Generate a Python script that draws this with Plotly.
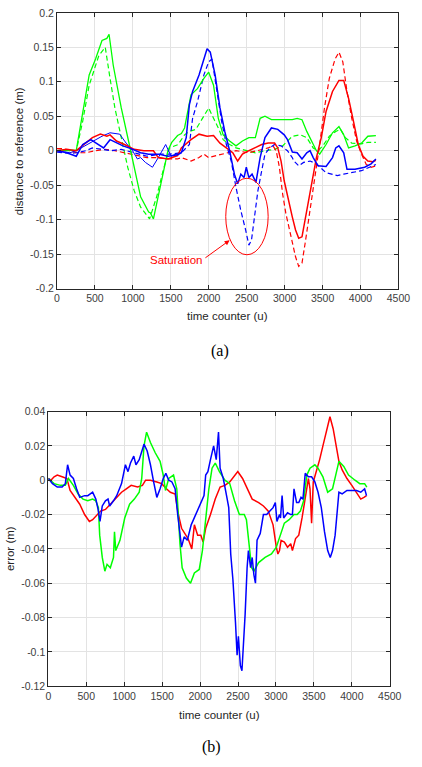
import plotly.graph_objects as go

# ---- (a) distance to reference ----
g_sol_x = [0, 127, 254, 318, 424, 508, 593, 657, 686, 741, 847, 953, 1017, 1102, 1208, 1229, 1271, 1356, 1462, 1512, 1589, 1639, 1681, 1766, 1851, 1936, 1999, 2063, 2126, 2190, 2275, 2359, 2444, 2529, 2614, 2677, 2741, 2826, 2953, 3101, 3165, 3229, 3292, 3356, 3419, 3462, 3546, 3631, 3716, 3779, 3843, 3928, 4013, 4097, 4203]
g_sol_y = [0, 0.001, 0.0005, 0.043, 0.11, 0.133, 0.16, 0.163, 0.169, 0.124, 0.062, 0.009, -0.024, -0.067, -0.089, -0.09, -0.099, -0.053, 0.0, 0.012, 0.022, 0.025, 0.033, 0.081, 0.09, 0.105, 0.114, 0.095, 0.047, 0.023, 0.014, 0.007, 0.014, 0.019, 0.019, 0.047, 0.05, 0.045, 0.045, 0.045, 0.047, 0.045, 0.028, 0.014, 0.0, -0.005, 0.009, 0.026, 0.035, 0.023, 0.004, 0.007, 0.011, 0.021, 0.022]

g_das_x = [0, 127, 254, 339, 424, 551, 614, 636, 699, 763, 847, 932, 1017, 1102, 1165, 1220, 1313, 1398, 1483, 1597, 1681, 1745, 1830, 1914, 1999, 2063, 2126, 2190, 2275, 2359, 2486, 2614, 2741, 2868, 2974, 3059, 3102, 3207, 3292, 3377, 3440, 3504, 3589, 3674, 3737, 3801, 3885, 4013, 4097, 4203]
g_das_y = [0, 0, 0, 0.043, 0.095, 0.138, 0.148, 0.15, 0.105, 0.062, 0.019, -0.024, -0.058, -0.082, -0.091, -0.099, -0.067, -0.029, 0.004, 0.009, 0.023, 0.028, 0.031, 0.047, 0.062, 0.047, 0.033, 0.016, 0.009, 0.004, 0.0, -0.003, 0.0, 0.002, 0.007, 0.016, 0.021, 0.023, 0.019, 0.004, 0.0, 0.007, 0.021, 0.028, 0.031, 0.019, 0.011, 0.01, 0.012, 0.012]

b_sol_x = [0, 127, 254, 339, 445, 530, 614, 699, 784, 869, 975, 1102, 1208, 1335, 1462, 1589, 1639, 1703, 1745, 1787, 1872, 1936, 1978, 2020, 2084, 2148, 2211, 2275, 2338, 2381, 2423, 2465, 2495, 2529, 2571, 2622, 2677, 2741, 2826, 2910, 2995, 3038, 3102, 3165, 3229, 3292, 3335, 3377, 3440, 3546, 3631, 3674, 3716, 3779, 3822, 3928, 4055, 4140, 4203]
b_sol_y = [0, -0.003, -0.008, 0.009, 0.016, 0.01, 0.004, 0.016, 0.011, 0.007, 0.003, -0.003, -0.005, -0.005, -0.008, -0.006, -0.003, 0.019, 0.067, 0.086, 0.11, 0.133, 0.148, 0.143, 0.11, 0.062, 0.028, 0.0, -0.034, -0.048, -0.034, -0.039, -0.024, -0.039, -0.034, -0.046, -0.01, 0.019, 0.033, 0.031, 0.023, 0.016, -0.002, -0.003, -0.012, -0.003, 0.0, -0.01, -0.022, -0.023, -0.01, 0.004, 0.007, -0.003, -0.027, -0.027, -0.024, -0.019, -0.012]

b_thin_x = [0, 169, 254, 424, 593, 699, 826, 911, 996, 1059, 1102, 1165, 1258, 1335, 1432, 1504, 1568, 1639]
b_thin_y = [0, -0.003, 0.0, 0.011, 0.021, 0.026, 0.024, 0.011, 0.0, -0.012, -0.01, -0.017, -0.024, -0.01, 0.009, -0.008, -0.005, -0.003]

b_das_x = [0, 169, 254, 381, 466, 593, 720, 847, 1017, 1186, 1356, 1483, 1639, 1745, 1787, 1851, 1936, 1999, 2042, 2105, 2169, 2232, 2296, 2359, 2423, 2486, 2529, 2563, 2605, 2648, 2698, 2741, 2804, 2868, 2953, 3037, 3101, 3123, 3186, 3250, 3335, 3419, 3546, 3695, 3779, 3885, 4013, 4118, 4203]
b_das_y = [-0.002, -0.004, -0.003, 0.0, 0.004, 0.002, 0.0, 0.002, -0.003, -0.008, -0.005, -0.005, -0.003, 0.009, 0.047, 0.071, 0.11, 0.129, 0.133, 0.086, 0.043, 0.009, -0.015, -0.053, -0.087, -0.115, -0.137, -0.13, -0.096, -0.058, -0.029, -0.005, 0.004, 0.009, 0.007, 0.0, -0.01, -0.015, -0.022, -0.017, -0.015, -0.019, -0.032, -0.036, -0.034, -0.032, -0.029, -0.024, -0.02]

r_sol_x = [0, 127, 254, 381, 466, 572, 657, 699, 784, 890, 1017, 1144, 1271, 1335, 1462, 1589, 1639, 1766, 1872, 1978, 2063, 2148, 2232, 2317, 2381, 2444, 2529, 2614, 2698, 2783, 2868, 2910, 2953, 2995, 3059, 3101, 3144, 3186, 3229, 3292, 3356, 3419, 3483, 3546, 3631, 3716, 3779, 3843, 3907, 3970, 4034, 4097, 4161, 4203]
r_sol_y = [0, 0.002, 0.0, 0.011, 0.019, 0.024, 0.021, 0.023, 0.014, 0.009, 0.002, 0.0, 0.0, -0.01, -0.012, -0.007, 0.004, 0.016, 0.024, 0.021, 0.022, 0.011, 0.004, -0.003, -0.015, -0.005, 0.0, 0.004, 0.009, 0.011, 0.011, 0.004, -0.015, -0.044, -0.077, -0.096, -0.115, -0.127, -0.125, -0.087, -0.048, -0.01, 0.019, 0.057, 0.086, 0.102, 0.102, 0.076, 0.043, 0.009, -0.008, -0.015, -0.016, -0.014]

r_das_x = [0, 85, 254, 381, 508, 636, 763, 890, 1017, 1186, 1313, 1462, 1589, 1639, 1766, 1872, 1936, 1999, 2105, 2232, 2359, 2529, 2656, 2783, 2846, 2889, 2931, 2974, 3016, 3080, 3144, 3186, 3229, 3271, 3335, 3398, 3462, 3525, 3589, 3665, 3716, 3767, 3822, 3885, 3949, 4013, 4076, 4140, 4203]
r_das_y = [0.003, 0.003, -0.003, -0.003, 0.0, 0.002, 0.0, -0.003, -0.005, -0.01, -0.01, -0.012, -0.012, -0.01, -0.015, -0.01, -0.005, -0.01, -0.007, -0.003, 0.0, -0.003, 0.0, 0.004, 0.007, 0.0, -0.024, -0.063, -0.091, -0.125, -0.154, -0.168, -0.163, -0.134, -0.087, -0.034, 0.009, 0.062, 0.105, 0.133, 0.143, 0.129, 0.086, 0.047, 0.014, -0.005, -0.02, -0.024, -0.022]

# ---- (b) error ----
er_x = [0, 34, 76, 118, 182, 245, 287, 351, 414, 478, 541, 584, 626, 689, 753, 838, 901, 965, 1028, 1092, 1176, 1240, 1282, 1346, 1430, 1494, 1557, 1608, 1671, 1714, 1756, 1798, 1841, 1891, 1925, 1968, 2010, 2040, 2074, 2137, 2200, 2264, 2327, 2391, 2442, 2497, 2560, 2624, 2687, 2772, 2835, 2899, 2962, 3005, 3026, 3047, 3068, 3111, 3153, 3195, 3217, 3259, 3301, 3344, 3386, 3428, 3449, 3470, 3492, 3534, 3576, 3619, 3661, 3712, 3754, 3788, 3830, 3873, 3936, 4000, 4063, 4118, 4160, 4194]
er_y = [0.001, 0.0, 0.002, 0.003, 0.002, 0.001, -0.006, -0.01, -0.014, -0.02, -0.024, -0.023, -0.021, -0.018, -0.017, -0.013, -0.01, -0.007, -0.005, -0.003, -0.004, -0.003, 0.0, 0.0, -0.001, -0.002, -0.005, -0.007, -0.008, -0.02, -0.028, -0.031, -0.034, -0.04, -0.026, -0.032, -0.032, -0.036, -0.028, -0.02, -0.011, -0.004, -0.003, -0.001, 0.002, 0.005, 0.001, -0.005, -0.011, -0.013, -0.015, -0.018, -0.026, -0.039, -0.043, -0.041, -0.035, -0.036, -0.039, -0.037, -0.041, -0.034, -0.032, -0.022, -0.009, 0.001, -0.005, -0.025, -0.001, 0.005, 0.012, 0.02, 0.028, 0.037, 0.03, 0.022, 0.011, 0.006, 0.001, -0.003, -0.007, -0.011, -0.01, -0.009]

eg_x = [0, 76, 160, 224, 266, 330, 393, 457, 520, 584, 626, 660, 677, 711, 745, 774, 817, 859, 872, 889, 944, 1007, 1071, 1134, 1198, 1231, 1261, 1295, 1346, 1409, 1473, 1515, 1544, 1587, 1650, 1693, 1735, 1764, 1819, 1874, 1925, 1989, 2031, 2074, 2116, 2158, 2200, 2255, 2327, 2391, 2454, 2518, 2582, 2611, 2645, 2679, 2709, 2772, 2857, 2941, 3005, 3068, 3111, 3174, 3238, 3280, 3322, 3365, 3407, 3449, 3513, 3555, 3619, 3682, 3746, 3788, 3830, 3894, 3957, 4042, 4105, 4169, 4198]
eg_y = [0.001, -0.002, -0.003, -0.003, 0.001, -0.003, -0.008, -0.011, -0.012, -0.011, -0.012, -0.016, -0.032, -0.045, -0.053, -0.049, -0.051, -0.045, -0.03, -0.041, -0.035, -0.022, -0.014, -0.011, -0.007, 0.001, 0.02, 0.028, 0.022, 0.016, 0.011, 0.003, -0.006, 0.001, 0.003, -0.005, -0.037, -0.051, -0.057, -0.06, -0.054, -0.052, -0.041, -0.022, -0.005, 0.007, 0.01, 0.005, 0.0, -0.002, -0.012, -0.02, -0.02, -0.023, -0.039, -0.051, -0.053, -0.048, -0.045, -0.043, -0.039, -0.03, -0.025, -0.023, -0.02, -0.02, -0.018, -0.012, 0.003, 0.007, 0.009, 0.007, 0.002, -0.007, -0.005, 0.003, 0.011, 0.008, 0.003, 0.0, -0.002, -0.002, -0.004]

eb_x = [0, 55, 118, 182, 224, 254, 287, 330, 372, 414, 478, 520, 584, 626, 656, 681, 711, 753, 787, 808, 859, 901, 965, 1016, 1050, 1083, 1126, 1155, 1198, 1261, 1303, 1346, 1388, 1430, 1473, 1515, 1549, 1587, 1629, 1671, 1705, 1735, 1756, 1790, 1832, 1883, 1925, 1968, 2010, 2052, 2074, 2103, 2137, 2179, 2213, 2243, 2264, 2306, 2349, 2378, 2404, 2433, 2467, 2488, 2505, 2531, 2552, 2569, 2594, 2620, 2637, 2666, 2687, 2709, 2730, 2751, 2793, 2835, 2878, 2920, 2962, 2992, 3013, 3047, 3060, 3081, 3102, 3153, 3195, 3217, 3238, 3272, 3301, 3331, 3356, 3386, 3428, 3470, 3513, 3555, 3598, 3640, 3682, 3716, 3746, 3780, 3809, 3830, 3873, 3936, 4000, 4063, 4118, 4169, 4194]
eb_y = [0.001, -0.002, -0.004, -0.004, -0.002, 0.009, 0.003, 0.001, -0.005, -0.01, -0.009, -0.009, -0.007, -0.011, -0.017, -0.024, -0.015, -0.012, -0.011, -0.015, -0.012, -0.009, -0.002, 0.009, 0.005, 0.01, 0.014, 0.009, 0.012, 0.021, 0.017, 0.009, -0.001, -0.01, -0.005, 0.001, 0.004, 0.0, -0.001, -0.005, -0.02, -0.03, -0.039, -0.033, -0.035, -0.026, -0.022, -0.017, -0.014, -0.009, 0.003, 0.005, 0.012, 0.02, 0.012, 0.028, 0.007, 0.001, -0.009, -0.016, -0.043, -0.058, -0.083, -0.102, -0.091, -0.108, -0.111, -0.1, -0.078, -0.051, -0.041, -0.051, -0.045, -0.055, -0.06, -0.035, -0.031, -0.02, -0.02, -0.018, -0.016, -0.013, -0.024, -0.02, -0.022, -0.009, -0.022, -0.019, -0.02, -0.02, -0.005, -0.013, -0.013, -0.01, -0.011, 0.004, 0.002, 0.002, -0.001, -0.007, -0.016, -0.03, -0.041, -0.045, -0.041, -0.032, -0.016, -0.007, -0.008, -0.006, -0.006, -0.006, -0.007, -0.005, -0.009]

x_ticks = [0, 500, 1000, 1500, 2000, 2500, 3000, 3500, 4000, 4500]
ya_ticks = [-0.2, -0.15, -0.1, -0.05, 0, 0.05, 0.1, 0.15, 0.2]
ya_text = ['-0.2', '-0.15', '-0.1', '-0.05', '0', '0.05', '0.1', '0.15', '0.2']
yb_ticks = [-0.12, -0.1, -0.08, -0.06, -0.04, -0.02, 0, 0.02, 0.04]
yb_text = ['-0.12', '-0.1', '-0.08', '-0.06', '-0.04', '-0.02', '0', '0.02', '0.04']

RED, GREEN, BLUE = '#ff0000', '#00ff00', '#0000ff'
DASH = '5px,3px'

fig = go.Figure()

# top panel
top = [
    (g_das_x, g_das_y, GREEN, DASH, 1.2),
    (r_das_x, r_das_y, RED, DASH, 1.2),
    (b_das_x, b_das_y, BLUE, DASH, 1.2),
    (g_sol_x, g_sol_y, GREEN, 'solid', 1.3),
    (b_thin_x, b_thin_y, BLUE, 'solid', 1.0),
    (r_sol_x, r_sol_y, RED, 'solid', 1.5),
    (b_sol_x, b_sol_y, BLUE, 'solid', 1.5),
]
for x, y, c, d, w in top:
    fig.add_trace(go.Scatter(x=x, y=y, mode='lines', line=dict(color=c, dash=d, width=w),
                             xaxis='x', yaxis='y', showlegend=False))

# bottom panel
for x, y, c in [(er_x, er_y, RED), (eg_x, eg_y, GREEN), (eb_x, eb_y, BLUE)]:
    fig.add_trace(go.Scatter(x=x, y=y, mode='lines', line=dict(color=c, width=1.5),
                             xaxis='x2', yaxis='y2', showlegend=False))

FR = '#262626'
TICKF = dict(family='Liberation Sans, Arial, sans-serif', size=10.5, color='#404040')
ax_common = dict(showline=True, linecolor=FR, linewidth=1, mirror='ticks', ticks='inside',
                 ticklen=4, tickcolor=FR, showgrid=True, gridcolor='#e3e3e3', gridwidth=1,
                 zeroline=False, tickfont=TICKF)

fig.update_layout(
    width=422, height=767,
    margin=dict(l=0, r=0, t=0, b=0),
    paper_bgcolor='white', plot_bgcolor='white',
    xaxis=dict(domain=[56/422, 410/422], range=[0, 4500], tickvals=x_ticks, anchor='y', **ax_common),
    yaxis=dict(domain=[1-287/767, 1-7/767], range=[-0.2, 0.2], tickvals=ya_ticks, ticktext=ya_text,
               anchor='x', **ax_common),
    xaxis2=dict(domain=[47/422, 401/422], range=[0, 4500], tickvals=x_ticks, anchor='y2', **ax_common),
    yaxis2=dict(domain=[1-691/767, 1-412/767], range=[-0.12, 0.04], tickvals=yb_ticks, ticktext=yb_text,
                anchor='x2', **ax_common),
)

LBL = dict(family='Liberation Sans, Arial, sans-serif', size=11.5, color='#262626')
SER = dict(family='Liberation Serif, Times New Roman, serif', size=16, color='black')
ann = [
    dict(x=233/422, y=1-315/767, text='time counter (u)', font=LBL),
    dict(x=224/422, y=1-720/767, text='time counter (u)', font=LBL),
    dict(x=16/422, y=1-147/767, text='distance to reference (m)', font=LBL, textangle=-90),
    dict(x=8/422, y=1-551/767, text='error (m)', font=LBL, textangle=-90),
    dict(x=225/422, y=1-350/767, text='(a)', font=SER),
    dict(x=216/422, y=1-753/767, text='(b)', font=SER),
]
for a in ann:
    fig.add_annotation(xref='paper', yref='paper', showarrow=False, xanchor='center', yanchor='middle', **a)

# saturation marker
fig.add_shape(type='circle', xref='x', yref='y', x0=2224, x1=2783, y0=-0.151, y1=-0.040,
              line=dict(color=RED, width=1))
fig.add_annotation(xref='x', yref='y', x=2275, y=-0.130, ax=1936, ay=-0.157, axref='x', ayref='y',
                   showarrow=True, arrowhead=2, arrowsize=1, arrowwidth=1, arrowcolor=RED, text='')
fig.add_annotation(xref='x', yref='y', x=1565, y=-0.159, text='Saturation', showarrow=False,
                   font=dict(family='Liberation Sans, Arial, sans-serif', size=11.5, color=RED))

# body margin off so the 422x767 figure sits exactly in the window
fig.write_html("out.html", config={'displayModeBar': False},
               post_script="document.body.style.margin='0';")
